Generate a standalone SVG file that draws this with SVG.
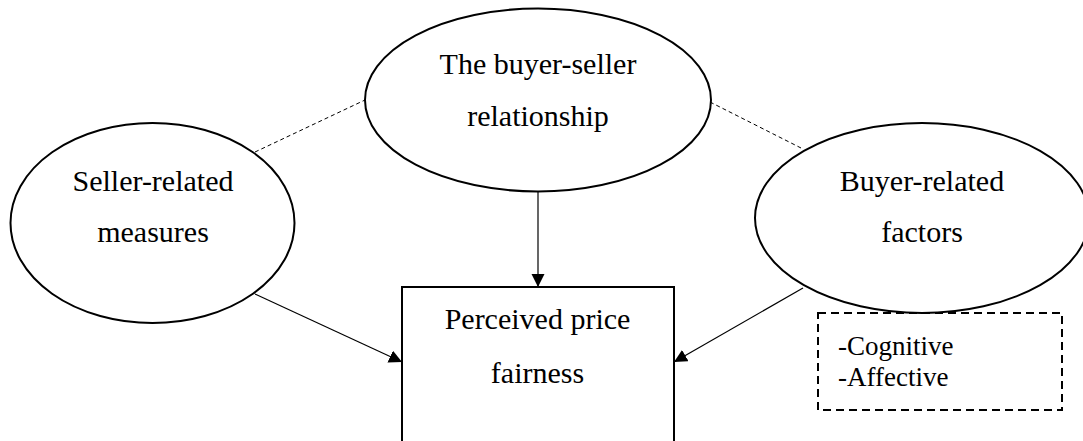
<svg xmlns="http://www.w3.org/2000/svg" width="1083" height="441" viewBox="0 0 1083 441">
<style>
.node{fill:#fff;stroke:#000;stroke-width:2}
.t{font-size:30px;fill:#000;text-anchor:middle}
.s{font-size:27px;fill:#000}
.solid{stroke:#000;stroke-width:1.2;fill:none}
.dash{stroke:#000;stroke-width:1;fill:none;stroke-dasharray:4 3}
</style>
<defs>
<marker id="arr" markerUnits="userSpaceOnUse" markerWidth="14" markerHeight="14" refX="13" refY="6.5" orient="auto">
<path d="M0,0 L13,6.5 L0,13 Z" fill="#000"/>
</marker>
</defs>
<rect width="1083" height="441" fill="#fff"/>
<g id="connectors">
<line class="dash" x1="255" y1="152" x2="365" y2="100"/>
<line class="dash" x1="710" y1="102" x2="801" y2="148"/>
<line class="solid" x1="538" y1="192" x2="538" y2="287" marker-end="url(#arr)"/>
<line class="solid" x1="255" y1="294" x2="402" y2="362" marker-end="url(#arr)"/>
<line class="solid" x1="803" y1="288" x2="674" y2="362" marker-end="url(#arr)"/>
</g>
<g font-family="Liberation Serif, serif">
<g id="node-seller">
<ellipse class="node" cx="152.5" cy="223" rx="142" ry="100"/>
<text class="t" x="153" y="191">Seller-related</text>
<text class="t" x="153" y="242">measures</text>
</g>
<g id="node-relationship">
<ellipse class="node" cx="538" cy="100" rx="173" ry="91.5"/>
<text class="t" x="538" y="74">The buyer-seller</text>
<text class="t" x="538" y="126">relationship</text>
</g>
<g id="node-buyer">
<ellipse class="node" cx="922" cy="218" rx="167" ry="95"/>
<text class="t" x="922" y="191">Buyer-related</text>
<text class="t" x="922" y="242">factors</text>
</g>
<g id="node-fairness">
<rect class="node" x="402" y="287" width="272" height="160"/>
<text class="t" x="537.5" y="329">Perceived price</text>
<text class="t" x="537.5" y="383">fairness</text>
</g>
<g id="node-dimensions">
<rect x="818" y="313" width="244" height="97" fill="none" stroke="#000" stroke-width="2" stroke-dasharray="8 5"/>
<text class="s" x="838" y="355">-Cognitive</text>
<text class="s" x="838" y="386">-Affective</text>
</g>
</g>
</svg>
